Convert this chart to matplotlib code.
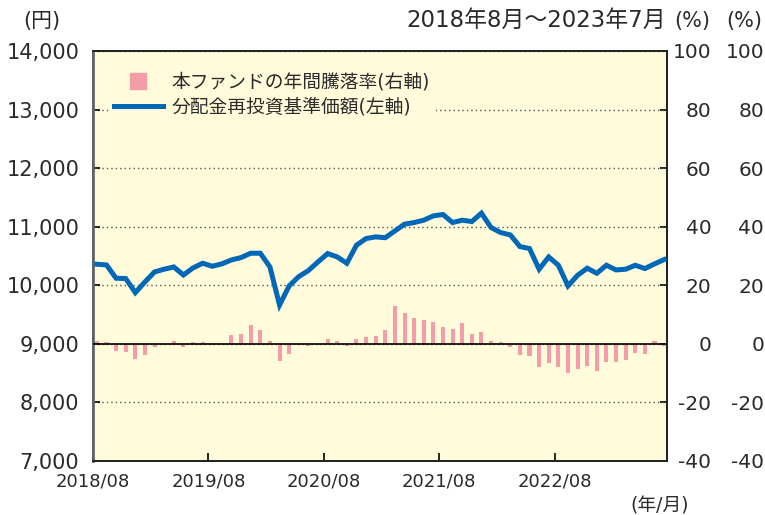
import matplotlib
matplotlib.use("Agg")
import matplotlib.pyplot as plt
from matplotlib.lines import Line2D
import numpy as np

# wide digits from DejaVu, kana/kanji from Noto CJK
plt.rcParams["font.family"] = ["DejaVu Sans", "Noto Sans CJK JP"]

# monthly data 2018/08 - 2023/07
NAV = [
    10359, 10347, 10120, 10115, 9875, 10057, 10228, 10274, 10313, 10176,
    10296, 10376, 10325, 10365, 10433, 10473, 10547, 10547, 10313, 9663,
    9989, 10148, 10251, 10399, 10541, 10484, 10376, 10684, 10798, 10826,
    10812, 10928, 11043, 11071, 11111, 11185, 11208, 11071, 11111, 11088,
    11231, 10986, 10900, 10860, 10661, 10627, 10274, 10484, 10342, 9989,
    10171, 10291, 10205, 10342, 10262, 10274, 10342, 10285, 10365, 10439,
]
ANNUAL_RETURN = [
    1.1, 0.5, -2.5, -2.9, -5.2, -3.9, -1.1, -0.3, 0.8, -1.1,
    0.5, 0.5, -0.3, 0.1, 3.0, 3.2, 6.6, 4.6, 0.8, -5.9,
    -3.5, -0.3, -0.8, -0.3, 1.8, 0.8, -0.8, 1.8, 2.3, 2.6,
    4.6, 12.8, 10.4, 8.7, 8.3, 7.3, 5.9, 5.2, 7.0, 3.5,
    3.9, 1.1, 0.5, -1.1, -3.9, -4.2, -7.9, -6.6, -8.0, -10.0,
    -8.7, -7.6, -9.3, -6.3, -6.3, -5.6, -3.2, -3.5, 0.8, -0.7,
]
XTICK_LABELS = ["2018/08", "2019/08", "2020/08", "2021/08", "2022/08"]
YEN_TICKS = list(range(7000, 14001, 1000))
PCT_TICKS = list(range(-40, 101, 20))

BG = "#FFFBDB"
PINK = "#F29DA8"
BLUE = "#0068B7"
TEXT = "#2a2a2a"
FS = 15

x = np.arange(len(NAV))

fig = plt.figure(figsize=(7.65, 5.15), dpi=100)
ax = fig.add_axes([0.1216, 0.1049, 0.7503, 0.7961])
ax2 = ax.twinx()
ax3 = ax.twinx()

ax2.set_zorder(0)
ax.set_zorder(2)
ax3.set_zorder(1)
ax.patch.set_visible(False)
ax2.patch.set_visible(True)
ax2.set_facecolor(BG)

# bars on right axis
ax2.bar(x, ANNUAL_RETURN, width=0.42, color=PINK, zorder=2)
ax2.set_ylim(-40, 100)
ax2.set_yticks(PCT_TICKS)
ax2.set_yticklabels([str(t) for t in PCT_TICKS], fontsize=FS - 0.5, color=TEXT, ha="right")
ax2.tick_params(axis="y", direction="in", length=5, width=1.2, pad=32)
ax3.set_ylim(-40, 100)
ax3.set_yticks(PCT_TICKS)
ax3.set_yticklabels([str(t) for t in PCT_TICKS], fontsize=FS - 0.5, color=TEXT, ha="right")
ax3.tick_params(axis="y", length=0, pad=70)
for s in ax3.spines.values():
    s.set_visible(False)

# line on left axis
ax.set_ylim(7000, 14000)
ax.set_xlim(-0.4, 59.3)
ax.set_yticks(YEN_TICKS)
ax.set_yticklabels([f"{t:,}" for t in YEN_TICKS], fontsize=FS, color=TEXT)
ax.tick_params(axis="y", direction="in", length=5, width=1.2, pad=10)
ax.grid(axis="y", color="#555555", linestyle=(0, (1, 2.2)), linewidth=1.0)
ax.axhline(9000, color="#111111", linewidth=1.3, zorder=3)
ax.plot(x, NAV, color=BLUE, linewidth=3.6, solid_joinstyle="miter", zorder=4)

ax.set_xticks(np.arange(0, 60, 12) - 0.4)
ax.set_xticklabels(XTICK_LABELS, fontsize=13, color=TEXT)
ax.tick_params(axis="x", direction="in", length=6, width=1.2, pad=8)

for a in (ax, ax2):
    for name in ("left", "right", "top", "bottom"):
        a.spines[name].set_color("#222222")
        a.spines[name].set_linewidth(1.3)
ax.spines["left"].set_color("#666666")
ax.spines["left"].set_linewidth(2)

handles = [
    Line2D([], [], marker="s", linestyle="none", color=PINK, markersize=12),
    Line2D([], [], color=BLUE, linewidth=3.6),
]
labels = ["本ファンドの年間騰落率(右軸)", "分配金再投資基準価額(左軸)"]
leg = ax.legend(handles, labels, loc="upper left", bbox_to_anchor=(0.01, 0.985),
                fontsize=13.5, frameon=True, facecolor=BG, edgecolor="none",
                framealpha=1, handlelength=2.6, handletextpad=0.5,
                labelspacing=0.35, borderpad=0.3)
for t in leg.get_texts():
    t.set_color(TEXT)

fig.text(0.055, 0.96, "(円)", fontsize=FS, color=TEXT, ha="center", va="center")
fig.text(0.870, 0.96, "2018年8月～2023年7月", fontsize=16.5, color=TEXT,
         ha="right", va="center")
fig.text(0.905, 0.96, "(%)", fontsize=FS, color=TEXT, ha="center", va="center")
fig.text(0.973, 0.96, "(%)", fontsize=FS, color=TEXT, ha="center", va="center")
fig.text(0.862, 0.018, "(年/月)", fontsize=13.5, color=TEXT, ha="center", va="center")

fig.savefig("out.png", dpi=100)
